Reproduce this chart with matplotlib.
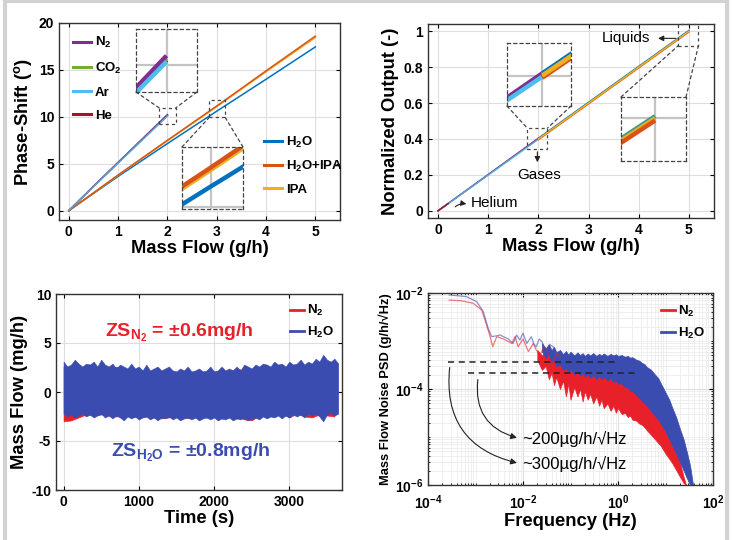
import matplotlib
matplotlib.use('Agg')
import matplotlib.pyplot as plt
import matplotlib.ticker as mticker
from matplotlib.patches import Rectangle, ConnectionPatch
from matplotlib.lines import Line2D

plt.rcParams['font.family'] = ['Liberation Sans', 'DejaVu Sans']
plt.rcParams['font.weight'] = 'bold'
plt.rcParams['axes.labelweight'] = 'bold'
plt.rcParams['axes.unicode_minus'] = False
plt.rcParams['mathtext.fontset'] = 'custom'
plt.rcParams['mathtext.rm'] = 'Liberation Sans:bold'
plt.rcParams['mathtext.it'] = 'Liberation Sans:bold'
plt.rcParams['mathtext.bf'] = 'Liberation Sans:bold'
plt.rcParams['mathtext.default'] = 'rm'
PLAIN = ['Liberation Sans', 'DejaVu Sans']

# MATLAB colours
C_N2, C_CO2, C_AR, C_HE = '#7E2F8E', '#77AC30', '#4DBEEE', '#A2142F'
C_H2O, C_MIX, C_IPA = '#0072BD', '#D95319', '#EDB120'
RED, BLUE = '#e8202a', '#3b4cb0'

# ---- (a) phase shift vs mass flow
flow_gas = [0, 0.5, 1, 1.5, 2]
phase_n2 = [0, 2.6, 5.15, 7.7, 10.24]
phase_co2 = [0, 2.58, 5.12, 7.65, 10.16]
phase_ar = [0, 2.56, 5.08, 7.6, 10.08]
phase_he = [0, 2.57, 5.1, 7.62, 10.12]
flow_liq = [0, 1, 2, 3, 4, 5]
phase_h2o = [0, 3.65, 7.15, 10.6, 14.0, 17.45]
phase_mix = [0, 3.8, 7.5, 11.15, 14.9, 18.6]
phase_ipa = [0, 3.77, 7.45, 11.08, 14.8, 18.45]

# ---- (b) normalized output
norm_flow_gas = [0, 2]
norm_n2 = [0, 0.404]
norm_co2 = [0, 0.401]
norm_ar = [0, 0.398]
norm_flow_he = [0, 0.2]
norm_he = [0, 0.04]
norm_flow_liq = [2, 5]
norm_h2o = [0.404, 1.004]
norm_ipa = [0.4, 1.0]
norm_mix = [0.396, 0.996]

# ---- (c) zero stability, band envelopes (mg/h)
t_blue = list(range(0, 3651, 50))
blue_hi = [3.1, 2.6, 2.8, 3.3, 2.9, 2.6, 2.9, 2.8, 3.1, 2.6, 3.3, 2.8, 2.6, 2.9, 2.4, 2.8,
           2.6, 2.4, 2.9, 2.4, 2.6, 2.2, 2.8, 2.2, 2.4, 2.6, 2.2, 2.4, 2.6, 2.2, 2.1, 2.4,
           2.2, 2.6, 2.1, 2.2, 2.4, 2.1, 2.2, 2.6, 2.1, 2.2, 2.6, 2.2, 2.4, 2.2, 2.6, 2.2,
           2.8, 2.6, 2.4, 2.8, 2.6, 2.9, 2.8, 2.6, 3.1, 2.8, 2.9, 2.6, 3.1, 2.8, 2.9, 3.3,
           2.8, 3.1, 2.9, 3.4, 3.1, 3.8, 3.3, 3.1, 3.4, 2.9]
blue_lo = [-2.2, -2.5, -2.3, -2.6, -2.4, -2.2, -2.5, -2.3, -2.6, -2.4, -2.2, -2.6, -2.4, -2.7,
           -2.4, -2.6, -2.9, -2.5, -2.7, -2.5, -2.8, -2.6, -2.5, -2.8, -2.6, -2.9, -2.6, -2.7,
           -2.5, -2.8, -2.6, -2.9, -2.7, -2.6, -2.8, -2.6, -2.9, -2.7, -2.6, -2.8, -2.6, -2.9,
           -2.7, -2.8, -2.6, -2.9, -2.7, -2.8, -2.6, -2.9, -2.7, -2.6, -2.8, -2.5, -2.7, -2.5,
           -2.6, -2.4, -2.7, -2.4, -2.6, -2.3, -2.5, -2.3, -2.6, -2.2, -2.4, -2.2, -2.5, -3.0,
           -2.3, -2.1, -2.4, -2.2]
t_red = list(range(0, 3601, 100))
red_hi = [2.6, 2.5, 2.4, 2.6, 2.5, 2.4, 2.3, 2.6, 2.3, 2.2, 2.3, 2.1, 2.2, 2.0, 2.1, 2.0, 2.1,
          2.0, 2.1, 2.0, 2.1, 2.0, 2.1, 2.4, 2.2, 2.3, 2.3, 2.4, 2.5, 2.4, 2.6, 2.5, 2.6, 2.7,
          2.6, 2.5, 2.7]
red_lo = [-3.0, -2.9, -2.6, -2.3, -2.4, -2.3, -2.4, -2.5, -2.4, -2.5, -2.6, -2.5, -2.6, -2.7,
          -2.6, -2.5, -2.6, -2.7, -2.5, -2.6, -2.5, -2.7, -2.6, -2.5, -2.8, -2.9, -2.4, -2.3,
          -2.4, -2.2, -2.6, -2.2, -2.5, -2.6, -2.3, -2.4, -2.5]

# ---- (d) noise PSD (g/h/sqrt(Hz))
f_n2_low = [2.8e-4, 5e-4, 9e-4, 1.35e-3, 1.7e-3, 2.1e-3, 2.3e-3, 2.8e-3, 3.9e-3, 5.8e-3,
            6.8e-3, 7.9e-3, 1.0e-2, 1.15e-2, 1.3e-2, 1.65e-2, 1.9e-2, 2.3e-2, 2.7e-2,
            3.1e-2, 3.7e-2, 4.3e-2, 5e-2, 6e-2]
psd_n2_low = [7.1e-3, 6.9e-3, 6.1e-3, 4.4e-3, 2.2e-3, 1.1e-3, 7.6e-4, 1.23e-3, 1.1e-3, 8.9e-4,
              1.23e-3, 7.6e-4, 1.1e-3, 8e-4, 6.0e-4, 8.9e-4, 6.5e-4, 5.1e-4, 7.5e-4,
              7e-4, 4.2e-4, 3.4e-4, 5.5e-4, 4.7e-4]
f_h2o_low = [2.8e-4, 6.5e-4, 1.06e-3, 1.46e-3, 1.86e-3, 2.2e-3, 3.3e-3, 4.9e-3, 6.2e-3, 7.3e-3,
             8.6e-3, 1.0e-2, 1.2e-2, 1.5e-2, 1.7e-2, 1.9e-2, 2.2e-2, 2.5e-2, 3.1e-2, 3.6e-2,
             4.3e-2, 5e-2, 6e-2]
psd_h2o_low = [9.1e-3, 8.4e-3, 6.6e-3, 4.1e-3, 1.8e-3, 1.23e-3, 1.33e-3, 1.1e-3, 8.9e-4, 1.33e-3,
               1.05e-3, 1.45e-3, 8.9e-4, 1.23e-3, 8.5e-4, 7.6e-4, 1.1e-3, 9.7e-4, 6e-4, 8.5e-4,
               7.6e-4, 6e-4, 5.5e-4]
f_h2o_band = [0.025, 0.03, 0.035, 0.04, 0.045, 0.05, 0.06, 0.07, 0.08, 0.09,
              0.1, 0.12, 0.14, 0.16, 0.18, 0.2, 0.23, 0.26, 0.3, 0.35,
              0.4, 0.45, 0.5, 0.6, 0.7, 0.8, 0.9, 1.0, 1.2, 1.4,
              1.6, 1.8, 2.0, 2.4, 2.8, 3.2, 3.6, 4, 5, 6,
              7, 8, 10, 12, 14, 17, 20, 24, 28, 33, 38]
h2o_hi = [9e-4, 7e-4, 8.5e-4, 6.5e-4, 7.5e-4, 5.8e-4, 6.5e-4, 5.3e-4, 6.2e-4, 5.2e-4,
          6e-4, 5e-4, 5.8e-4, 5.1e-4, 5.6e-4, 4.9e-4, 5.5e-4, 5e-4, 5.6e-4, 4.9e-4,
          5.4e-4, 5e-4, 5.5e-4, 4.9e-4, 5.4e-4, 5e-4, 5.3e-4, 4.9e-4, 5.1e-4, 4.7e-4,
          4.9e-4, 4.5e-4, 4.6e-4, 4.1e-4, 3.9e-4, 3.5e-4, 3.3e-4, 2.9e-4, 2.5e-4, 2e-4,
          1.7e-4, 1.3e-4, 8.5e-5, 6e-5, 4e-5, 2.5e-5, 1.5e-5, 9e-6, 5e-6, 2.5e-6, 1e-6]
h2o_lo = [6e-4, 4.5e-4, 5e-4, 3.5e-4, 4e-4, 3e-4, 3.2e-4, 2.5e-4, 2.8e-4, 2.2e-4,
          2.6e-4, 2e-4, 2.3e-4, 1.9e-4, 2.2e-4, 1.8e-4, 2.1e-4, 1.7e-4, 2e-4, 1.6e-4,
          1.9e-4, 1.6e-4, 1.8e-4, 1.5e-4, 1.7e-4, 1.4e-4, 1.5e-4, 1.3e-4, 1.3e-4, 1.1e-4,
          1.1e-4, 9e-5, 9e-5, 7.5e-5, 6.5e-5, 5.5e-5, 5e-5, 4.5e-5, 3.5e-5, 2.8e-5,
          2.3e-5, 1.9e-5, 1.3e-5, 9e-6, 6.5e-6, 4.5e-6, 3e-6, 2e-6, 1.4e-6, 1e-6, 1e-6]
f_n2_band = [0.02, 0.025, 0.03, 0.035, 0.04, 0.045, 0.05, 0.06, 0.07, 0.08,
             0.09, 0.1, 0.12, 0.14, 0.16, 0.18, 0.2, 0.23, 0.26, 0.3,
             0.35, 0.4, 0.45, 0.5, 0.6, 0.7, 0.8, 0.9, 1.0, 1.2,
             1.4, 1.6, 1.8, 2.0, 2.4, 2.8, 3.2, 3.6, 4, 5,
             6, 7, 8, 10, 12, 14, 17, 20, 24, 27]
n2_hi = [6.5e-4, 5e-4, 6e-4, 4.5e-4, 5e-4, 4e-4, 4.4e-4, 3.5e-4, 3.8e-4, 3.2e-4,
         3.5e-4, 3e-4, 3.3e-4, 2.9e-4, 3.2e-4, 2.8e-4, 3.1e-4, 2.8e-4, 3e-4, 2.7e-4,
         2.9e-4, 2.6e-4, 2.8e-4, 2.5e-4, 2.6e-4, 2.4e-4, 2.5e-4, 2.3e-4, 2.4e-4, 2.1e-4,
         2.1e-4, 1.9e-4, 1.8e-4, 1.7e-4, 1.5e-4, 1.35e-4, 1.2e-4, 1.1e-4, 1e-4, 7.5e-5,
         6e-5, 4.8e-5, 3.8e-5, 2.4e-5, 1.5e-5, 1e-5, 5.5e-6, 3e-6, 1.5e-6, 1e-6]
n2_lo = [4e-4, 2.5e-4, 3e-4, 1.6e-4, 2.2e-4, 1.2e-4, 1.8e-4, 1e-4, 1.5e-4, 7e-5,
         1.3e-4, 6e-5, 1.1e-4, 7e-5, 1e-4, 5.5e-5, 9e-5, 6e-5, 8e-5, 5e-5,
         7e-5, 4.5e-5, 6e-5, 4e-5, 5e-5, 3.5e-5, 4.5e-5, 3.2e-5, 4e-5, 3e-5,
         3.2e-5, 2.6e-5, 2.8e-5, 2.3e-5, 2.2e-5, 1.9e-5, 1.8e-5, 1.6e-5, 1.4e-5, 1.1e-5,
         9e-6, 7.5e-6, 6.5e-6, 4.5e-6, 3.5e-6, 2.8e-6, 2e-6, 1.5e-6, 1.1e-6, 1e-6]
level_300 = 3.7e-4
level_200 = 2.2e-4

W, H = 733, 540
fig = plt.figure(figsize=(W / 100, H / 100), dpi=100)
TICK = 10
LAB = 13.2
LEG = 9.5


def fr(left, top, right, bottom):
    return [left / W, 1 - bottom / H, (right - left) / W, (bottom - top) / H]


def style(ax):
    ax.tick_params(direction='in', top=True, right=True, labelsize=TICK, length=3, width=0.8)
    ax.grid(True, color='#dedede', lw=0.8)
    ax.set_axisbelow(True)
    for s in ax.spines.values():
        s.set_color('#333333')
        s.set_linewidth(1.0)


def zoom_box(ax, rect, xr, yr, lines, xt, yt, above):
    axin = fig.add_axes(rect)
    for x, y, c in lines:
        axin.plot(x, y, color=c, lw=3.2, solid_capstyle='butt')
    axin.set_xlim(xr)
    axin.set_ylim(yr)
    axin.set_xticks(xt)
    axin.set_yticks(yt)
    axin.tick_params(length=0, labelbottom=False, labelleft=False)
    axin.grid(True, color='#c4c4c4', lw=1.6)
    axin.set_axisbelow(True)
    for s in axin.spines.values():
        s.set_linestyle((0, (2.5, 2.5)))
        s.set_color('#444444')
        s.set_linewidth(0.9)
    ax.add_patch(Rectangle((xr[0], yr[0]), xr[1] - xr[0], yr[1] - yr[0], fill=False,
                           ls=(0, (2.5, 2.5)), ec='#444444', lw=0.9, zorder=5, clip_on=False))
    if above:
        pairs = [((0, 0), (xr[0], yr[1])), ((1, 0), (xr[1], yr[1]))]
    else:
        pairs = [((0, 1), (xr[0], yr[0])), ((1, 1), (xr[1], yr[0]))]
    for a, b in pairs:
        cp = ConnectionPatch(xyA=a, coordsA=axin.transAxes, xyB=b, coordsB=ax.transData,
                             ls=(0, (2.5, 2.5)), color='#444444', lw=0.9, zorder=5)
        fig.add_artist(cp)


# ================= (a)
ax1 = fig.add_axes(fr(59, 23, 340, 220))
style(ax1)
ax1.plot(flow_liq, phase_h2o, color=C_H2O, lw=1.1)
ax1.plot(flow_liq, phase_ipa, color=C_IPA, lw=1.1)
ax1.plot(flow_liq, phase_mix, color=C_MIX, lw=1.1)
ax1.plot(flow_gas, phase_he, color=C_HE, lw=1.1)
ax1.plot(flow_gas, phase_co2, color=C_CO2, lw=1.1)
ax1.plot(flow_gas, phase_n2, color=C_N2, lw=1.1)
ax1.plot(flow_gas, phase_ar, color=C_AR, lw=1.1, alpha=0.8)
ax1.set_xlim(-0.2, 5.5)
ax1.set_ylim(-1, 20)
ax1.set_xticks([0, 1, 2, 3, 4, 5])
ax1.set_yticks([0, 5, 10, 15, 20])
ax1.set_xlabel('Mass Flow (g/h)', fontsize=LAB, labelpad=1)
ax1.set_ylabel('Phase-Shift ($^o$)', fontsize=LAB, labelpad=3)
g_handles = [Line2D([], [], color=c, lw=2.2) for c in (C_N2, C_CO2, C_AR, C_HE)]
leg1 = ax1.legend(g_handles, ['N$_2$', 'CO$_2$', 'Ar', 'He'], loc='upper left',
                  bbox_to_anchor=(0.03, 0.965), frameon=False, fontsize=LEG, handlelength=1.4,
                  handletextpad=0.3, labelspacing=0.8, borderaxespad=0)
ax1.add_artist(leg1)
l_handles = [Line2D([], [], color=c, lw=2.2) for c in (C_H2O, C_MIX, C_IPA)]
ax1.legend(l_handles, ['H$_2$O', 'H$_2$O+IPA', 'IPA'], loc='upper left',
           bbox_to_anchor=(0.71, 0.46), frameon=False, fontsize=LEG, handlelength=1.4,
           handletextpad=0.3, labelspacing=0.7, borderaxespad=0)
zoom_box(ax1, fr(136, 29, 197, 92), (1.83, 2.17), (9.26, 10.96),
         [(flow_gas, phase_he, C_HE), (flow_gas, phase_co2, C_CO2),
          (flow_gas, phase_n2, C_N2), (flow_gas, phase_ar, C_AR)],
         [2], [10], above=True)
zoom_box(ax1, fr(182, 147, 243, 209), (2.85, 3.17), (9.95, 11.75),
         [(flow_liq, phase_h2o, C_H2O), (flow_liq, phase_ipa, C_IPA),
          (flow_liq, phase_mix, C_MIX)],
         [3], [10], above=False)

# ================= (b)
ax2 = fig.add_axes(fr(428, 24, 714, 218))
style(ax2)
ax2.plot(norm_flow_gas, norm_co2, color=C_CO2, lw=1.1)
ax2.plot(norm_flow_gas, norm_n2, color=C_N2, lw=1.1)
ax2.plot(norm_flow_gas, norm_ar, color=C_AR, lw=1.1, alpha=0.8)
ax2.plot(norm_flow_he, norm_he, color=C_HE, lw=1.1)
ax2.plot(norm_flow_liq, norm_h2o, color=C_H2O, lw=1.1)
ax2.plot(norm_flow_liq, norm_mix, color=C_MIX, lw=1.1)
ax2.plot(norm_flow_liq, norm_ipa, color=C_IPA, lw=1.1)
ax2.set_xlim(-0.2, 5.5)
ax2.set_ylim(-0.04, 1.04)
ax2.set_xticks([0, 1, 2, 3, 4, 5])
ax2.set_yticks([0, 0.2, 0.4, 0.6, 0.8, 1])
ax2.yaxis.set_major_formatter(mticker.FuncFormatter(lambda v, p: '%g' % v))
ax2.set_xlabel('Mass Flow (g/h)', fontsize=LAB, labelpad=1)
ax2.set_ylabel('Normalized Output (-)', fontsize=LAB, labelpad=3)
zoom_box(ax2, fr(507, 43, 571, 106), (1.78, 2.18), (0.344, 0.46),
         [(norm_flow_gas, norm_co2, C_CO2), (norm_flow_gas, norm_n2, C_N2),
          (norm_flow_gas, norm_ar, C_AR), (norm_flow_liq, norm_h2o, C_H2O),
          (norm_flow_liq, norm_mix, C_MIX), (norm_flow_liq, norm_ipa, C_IPA)],
         [2], [0.4], above=True)
zoom_box(ax2, fr(621, 97, 686, 161), (4.79, 5.19), (0.92, 1.04),
         [(norm_flow_liq, norm_h2o, '#3f9c8c'), (norm_flow_liq, norm_ipa, C_IPA),
          (norm_flow_liq, norm_mix, C_MIX)],
         [5], [1.0], above=False)
ax2.annotate('', xy=(4.33, 0.96), xytext=(4.79, 0.96),
             arrowprops=dict(arrowstyle='-|>', color='#222222', lw=0.8, mutation_scale=8))
ax2.text(3.75, 0.96, 'Liquids', fontsize=11, family=PLAIN, fontweight='normal',
         ha='center', va='center')
ax2.annotate('', xy=(1.98, 0.255), xytext=(1.98, 0.344),
             arrowprops=dict(arrowstyle='-|>', color='#222222', lw=0.8, mutation_scale=8))
ax2.text(2.02, 0.2, 'Gases', fontsize=11, family=PLAIN, fontweight='normal',
         ha='center', va='center')
ax2.annotate('', xy=(0.62, 0.035), xytext=(0.3, 0.012),
             arrowprops=dict(arrowstyle='-|>', color='#222222', lw=0.8, mutation_scale=8,
                             connectionstyle='arc3,rad=-0.3'))
ax2.text(0.66, 0.044, 'Helium', fontsize=11, family=PLAIN, fontweight='normal',
         ha='left', va='center')

# ================= (c)
ax3 = fig.add_axes(fr(56, 294, 342, 490))
style(ax3)
ax3.fill_between(t_red, red_lo, red_hi, color=RED, lw=0.4)
ax3.fill_between(t_blue, blue_lo, blue_hi, color=BLUE, lw=0.4)
ax3.set_xlim(-100, 3700)
ax3.set_ylim(-10, 10)
ax3.set_xticks([0, 1000, 2000, 3000])
ax3.set_yticks([-10, -5, 0, 5, 10])
ax3.set_xlabel('Time (s)', fontsize=LAB, labelpad=1)
ax3.set_ylabel('Mass Flow (mg/h)', fontsize=LAB, labelpad=2)
ax3.text(0.43, 0.8, r'ZS$_{\mathrm{N_2}}$ = ±0.6mg/h', transform=ax3.transAxes,
         color=RED, fontsize=14, ha='center', va='center')
ax3.text(0.47, 0.19, r'ZS$_{\mathrm{H_2O}}$ = ±0.8mg/h', transform=ax3.transAxes,
         color=BLUE, fontsize=14, ha='center', va='center')
ax3.legend([Line2D([], [], color=RED, lw=2), Line2D([], [], color=BLUE, lw=2)],
           ['N$_2$', 'H$_2$O'], loc='upper right', bbox_to_anchor=(0.99, 0.98),
           frameon=False, fontsize=LEG, handlelength=1.1, handletextpad=0.2,
           labelspacing=0.5, borderaxespad=0)

# ================= (d)
ax4 = fig.add_axes(fr(428, 293, 713, 485))
ax4.set_xscale('log')
ax4.set_yscale('log')
style(ax4)
ax4.grid(True, which='minor', color='#ececec', lw=0.6)
ax4.fill_between(f_n2_band, n2_lo, n2_hi, color=RED, lw=0.5)
ax4.plot(f_n2_low, psd_n2_low, color=RED, lw=0.9, alpha=0.6)
ax4.plot(f_h2o_low, psd_h2o_low, color=BLUE, lw=0.9, alpha=0.6)
ax4.fill_between(f_h2o_band, h2o_lo, h2o_hi, color=BLUE, lw=0.5)
ax4.plot([2.7e-4, 1.0], [level_300, level_300], color='#222222', lw=1.1, ls=(0, (4, 3)))
ax4.plot([7e-4, 2.7], [level_200, level_200], color='#222222', lw=1.1, ls=(0, (4, 3)))
ax4.annotate('', xy=(8.5e-3, 9.3e-6), xytext=(1.14e-3, 1.8e-4),
             arrowprops=dict(arrowstyle='-|>', color='#222222', lw=0.8, mutation_scale=9,
                             connectionstyle='arc3,rad=0.45'))
ax4.annotate('', xy=(8.5e-3, 2.8e-6), xytext=(2.9e-4, 3.2e-4),
             arrowprops=dict(arrowstyle='-|>', color='#222222', lw=0.8, mutation_scale=9,
                             connectionstyle='arc3,rad=0.45'))
ax4.text(9.5e-3, 9.3e-6, '~200µg/h/√Hz', fontsize=12, family=PLAIN, fontweight='normal',
         va='center')
ax4.text(9.5e-3, 2.8e-6, '~300µg/h/√Hz', fontsize=12, family=PLAIN, fontweight='normal',
         va='center')
ax4.set_xlim(1e-4, 1e2)
ax4.set_ylim(1e-6, 1e-2)
ax4.xaxis.set_major_locator(mticker.LogLocator(base=100))
ax4.yaxis.set_major_locator(mticker.LogLocator(base=100))
ax4.xaxis.set_minor_locator(mticker.LogLocator(base=10, subs=[1, 2, 3, 4, 5, 6, 7, 8, 9], numticks=20))
ax4.yaxis.set_minor_locator(mticker.LogLocator(base=10, subs=[1, 2, 3, 4, 5, 6, 7, 8, 9], numticks=20))
ax4.xaxis.set_minor_formatter(mticker.NullFormatter())
ax4.yaxis.set_minor_formatter(mticker.NullFormatter())
ax4.tick_params(which='minor', direction='in', top=True, right=True, length=1.5)
ax4.tick_params(axis='x', which='major', pad=6)
ax4.set_xlabel('Frequency (Hz)', fontsize=LAB, labelpad=1)
ax4.set_ylabel('Mass Flow Noise PSD (g/h/√Hz)', fontsize=9.3, labelpad=2)
ax4.legend([Line2D([], [], color=RED, lw=2), Line2D([], [], color=BLUE, lw=2)],
           ['N$_2$', 'H$_2$O'], loc='upper right', bbox_to_anchor=(0.99, 0.97),
           frameon=False, fontsize=LEG, handlelength=1.1, handletextpad=0.2,
           labelspacing=0.5, borderaxespad=0)

# grey frame of the figure
fig.add_artist(Rectangle((4.5 / W, -0.02), (727 - 4.5) / W, 1.0 + 0.02 - 1.5 / H,
                         transform=fig.transFigure, fill=False, ec='#d2d2d2', lw=3))

fig.savefig('out.png', dpi=100)
